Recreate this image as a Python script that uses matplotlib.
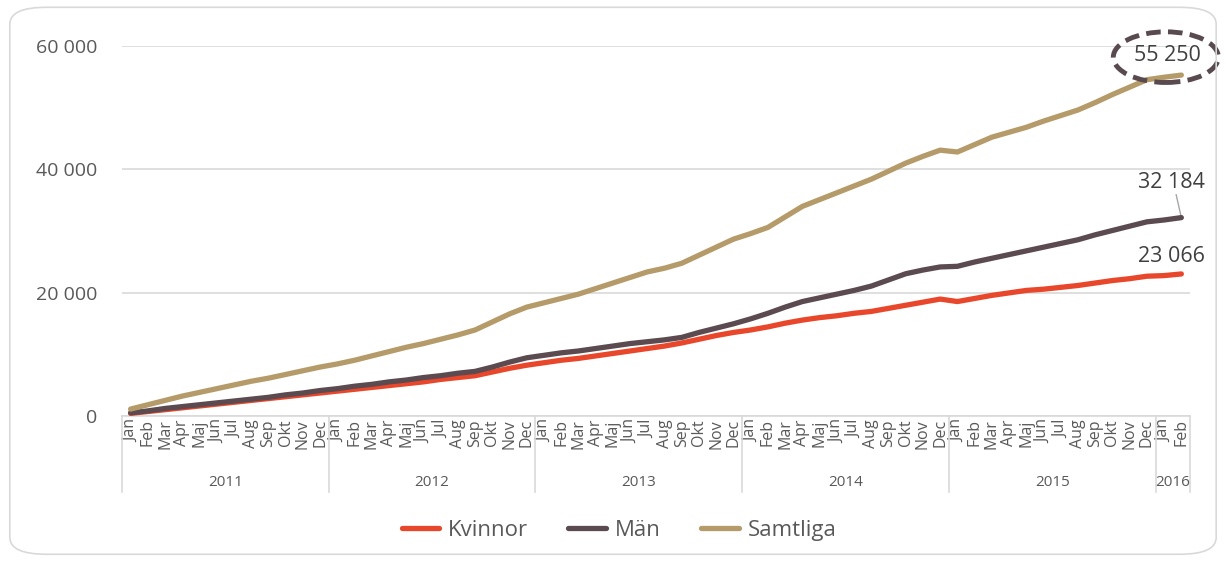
import numpy as np
import matplotlib.pyplot as plt
from matplotlib.patches import Ellipse, FancyBboxPatch

plt.rcParams['font.family'] = ['Open Sans', 'DejaVu Sans']

# Kategorier: manader och ar
manader = ["Jan", "Feb", "Mar", "Apr", "Maj", "Jun", "Jul", "Aug", "Sep", "Okt", "Nov", "Dec"]
ar = ["2011", "2012", "2013", "2014", "2015", "2016"]
etiketter = manader * 5 + ["Jan", "Feb"]

# Kumulativt antal (tusental avlasta ur bilden), Jan 2011 - Feb 2016
kvinnor = [0.5, 0.8, 1.1, 1.4, 1.7, 2.0, 2.3, 2.6, 2.9, 3.2, 3.5, 3.8,
           4.1, 4.4, 4.7, 5.0, 5.3, 5.6, 6.0, 6.3, 6.6, 7.2, 7.8, 8.3,
           8.7, 9.1, 9.4, 9.8, 10.2, 10.6, 11.0, 11.4, 11.9, 12.5, 13.1, 13.6,
           14.0, 14.5, 15.1, 15.6, 16.0, 16.3, 16.7, 17.0, 17.5, 18.0, 18.5, 19.0,
           18.6, 19.1, 19.6, 20.0, 20.4, 20.6, 20.9, 21.2, 21.6, 22.0, 22.3, 22.7,
           22.8, 23.066]
man = [0.6, 0.9, 1.3, 1.6, 1.9, 2.2, 2.5, 2.8, 3.1, 3.5, 3.8, 4.2,
       4.5, 4.9, 5.2, 5.6, 5.9, 6.3, 6.6, 7.0, 7.3, 8.0, 8.8, 9.5,
       9.9, 10.3, 10.6, 11.0, 11.4, 11.8, 12.1, 12.4, 12.8, 13.6, 14.3, 15.0,
       15.8, 16.7, 17.7, 18.6, 19.2, 19.8, 20.4, 21.1, 22.1, 23.1, 23.7, 24.2,
       24.3, 25.0, 25.6, 26.2, 26.8, 27.4, 28.0, 28.6, 29.4, 30.1, 30.8, 31.5,
       31.8, 32.184]
samtliga = [1.2, 1.9, 2.6, 3.3, 3.9, 4.5, 5.1, 5.7, 6.2, 6.8, 7.4, 8.0,
            8.5, 9.1, 9.8, 10.5, 11.2, 11.8, 12.5, 13.2, 14.0, 15.3, 16.6, 17.7,
            18.4, 19.1, 19.8, 20.7, 21.6, 22.5, 23.4, 24.0, 24.8, 26.1, 27.4, 28.7,
            29.6, 30.6, 32.3, 34.0, 35.1, 36.2, 37.3, 38.4, 39.7, 41.0, 42.1, 43.1,
            42.8, 44.0, 45.2, 46.0, 46.8, 47.8, 48.7, 49.6, 50.8, 52.1, 53.3, 54.5,
            54.9, 55.25]

kvinnor = np.array(kvinnor) * 1000
man = np.array(man) * 1000
samtliga = np.array(samtliga) * 1000
x = np.arange(len(etiketter))

gra = '#595959'
fig = plt.figure(figsize=(12.26, 5.61), dpi=100)
# Ram runt hela diagrammet
fig.patches.append(FancyBboxPatch((0.008, 0.012), 0.984, 0.975, boxstyle="round,pad=0,rounding_size=0.03",
                                  transform=fig.transFigure, facecolor='none', edgecolor='#d9d9d9', lw=1.2))
ax = fig.add_axes([0.0995, 0.2576, 0.8711, 0.6609])

ax.plot(x, kvinnor, color='#e8472b', lw=3.8, solid_capstyle='round', label='Kvinnor', zorder=3)
ax.plot(x, man, color='#5b4b51', lw=3.8, solid_capstyle='round', label='Män', zorder=3)
ax.plot(x, samtliga, color='#b59b69', lw=3.8, solid_capstyle='round', label='Samtliga', zorder=3)

ax.set_xlim(-0.5, len(x) - 0.5)
ax.set_ylim(0, 60000)
ax.set_yticks([0, 20000, 40000, 60000])
ax.set_yticklabels(['0', '20 000', '40 000', '60 000'])
ax.yaxis.grid(True, color='#d9d9d9', lw=1.2)
ax.set_axisbelow(True)
for s in ['top', 'right', 'left']:
    ax.spines[s].set_visible(False)
ax.spines['bottom'].set_color('#d9d9d9')
ax.spines['bottom'].set_linewidth(1.2)
ax.tick_params(axis='y', length=0, labelsize=14, labelcolor=gra, pad=18)
ax.set_xticks(x)
ax.set_xticklabels(etiketter, rotation=90, fontsize=11.5, color=gra)
ax.tick_params(axis='x', length=0, pad=2)

# Arsgrupper under manaderna
tr = ax.get_xaxis_transform()
grans = [-0.5, 11.5, 23.5, 35.5, 47.5, 59.5, 61.5]
for g in grans:
    ax.plot([g, g], [0, -0.205], transform=tr, color='#d9d9d9', lw=1.2, clip_on=False)
for i, a in enumerate(ar):
    ax.text((grans[i] + grans[i + 1]) / 2, -0.178, a, transform=tr, ha='center', va='center',
            fontsize=11, color=gra)

# Datatiketter
ax.text(x[-1] - 0.8, samtliga[-1] + 1500, '55 250', ha='center', va='bottom', fontsize=15.5, color='#404040')
ax.text(x[-1] - 0.6, man[-1] + 4000, '32 184', ha='center', va='bottom', fontsize=15.5, color='#404040')
ax.plot([x[-1] - 0.3, x[-1]], [man[-1] + 3700, man[-1]], color='#a6a6a6', lw=1)
ax.text(x[-1] - 0.6, kvinnor[-1] + 1100, '23 066', ha='center', va='bottom', fontsize=15.5, color='#404040')

ax.add_patch(Ellipse((x[-1] - 0.9, samtliga[-1] + 2900), 6.1, 8200, fill=False, edgecolor='#584a4f',
                     lw=3.5, ls=(0, (3, 1.5)), clip_on=False, zorder=4))

fig.legend(loc='center', bbox_to_anchor=(0.505, 0.055), ncol=3, frameon=False, fontsize=16,
           handlelength=1.7, columnspacing=1.8, handletextpad=0.4, labelcolor=gra)

fig.savefig('out.png', dpi=100)
